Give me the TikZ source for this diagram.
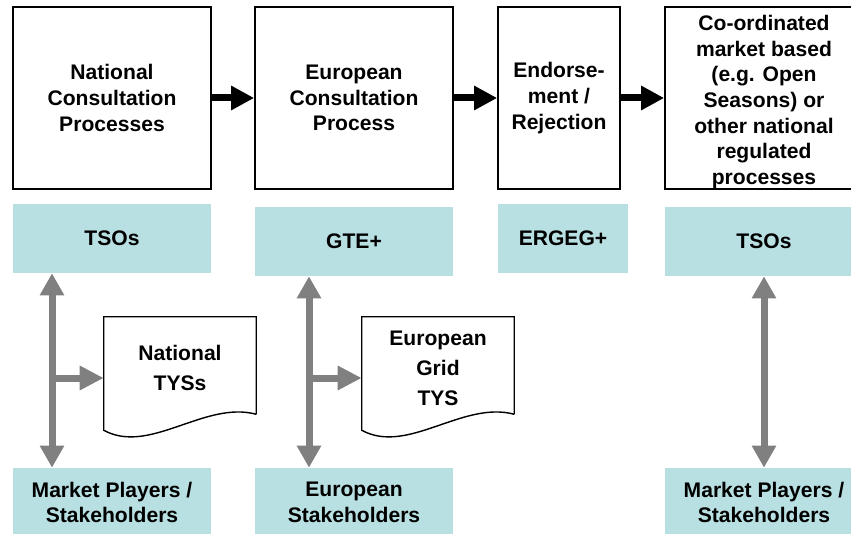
\documentclass[tikz,border=0pt]{standalone}
\usepackage{fontspec}
\setmainfont{Liberation Sans}
\usepackage{tikz}
\usetikzlibrary{arrows.meta,shapes,positioning,calc}
\usepackage{xcolor}
\definecolor{tysteal}{RGB}{184,223,225}
\definecolor{tysgray}{RGB}{128,128,128}
\tikzstyle{flowarrow} = [line width=0.175cm,-{Triangle[width=0.575cm,length=0.575cm]},color=black]
\tikzstyle{linkarrow} = [line width=0.175cm,{Triangle[width=0.575cm,length=0.55cm]}-{Triangle[width=0.575cm,length=0.55cm]},color=tysgray]
\tikzstyle{splitarrow} = [line width=0.175cm,-{Triangle[width=0.575cm,length=0.6cm]},color=tysgray]
\tikzstyle{process} = [rectangle, minimum width=4.95cm, minimum height=4.55cm, inner sep=0pt, align=center, draw=black, line width=1.2pt, font=\fontsize{15}{18.3}\selectfont\bfseries]
\tikzstyle{actor} = [rectangle, minimum width=4.95cm, minimum height=1.725cm, inner sep=0pt, align=center, fill=tysteal, font=\fontsize{15}{18.3}\selectfont\bfseries]
\tikzstyle{report} = [rectangle, minimum width=3.8cm, minimum height=2.55cm, inner sep=0pt, align=center, font=\fontsize{15}{21.3}\selectfont\bfseries]
\newcommand{\tysoutline}[1]{%
  \draw[line width=1pt] ($(#1.south east)+(0,0.125)$) -- (#1.north east) -- (#1.north west) -- ($(#1.south west)+(0,-0.275)$)
    .. controls ($(#1.south west)+(1.15,-0.9)$) and ($(#1.south west)+(2.525,0.475)$) .. ($(#1.south east)+(0,0.125)$);}

\begin{document}
\begin{tikzpicture}
\useasboundingbox (0,0) rectangle (21.275,13.325);
% Process chain
\node[process] (natproc) at (2.8,10.875) {National\\Consultation\\Processes};
\node[process] (euproc) at (8.85,10.875) {European\\Consultation\\Process};
\node[process, minimum width=3.05cm] (endorse) at (13.975,10.875) {Endorse-\\ment /\\Rejection};
\node[process] (market) at (19.1,10.875) {\rule{0pt}{16.6pt}Co-ordinated\\market based\\(e.g. Open\\Seasons) or\\other national\\regulated\\processes};

\draw[flowarrow] (natproc) -- (euproc);
\draw[flowarrow] (euproc) -- (endorse);
\draw[flowarrow] (endorse) -- (market);

% Actors
\node[actor] (tsoleft) at (2.8,7.3625) {TSOs};
\node[actor] (gte) at (8.85,7.2875) {GTE+};
\node[actor, minimum width=3.25cm] (ergeg) at (14.075,7.3625) {ERGEG+};
\node[actor] (tsoright) at (19.1,7.2875) {TSOs};

\node[actor] (playleft) at (2.8,0.7625) {Market Players /\\Stakeholders};
\node[actor] (eustake) at (8.85,0.7625) {European\\Stakeholders};
\node[actor] (playright) at (19.1,0.7625) {Market Players /\\Stakeholders};

% Statements
\node[report] (ntys) at (4.5,4.125) {National\\TYSs};
\node[report] (egtys) at (10.95,4.125) {European\\Grid\\TYS};
\tysoutline{ntys}
\tysoutline{egtys}

\coordinate (nsplit) at (1.3,3.875);
\coordinate (esplit) at (7.725,3.875);

\draw[linkarrow] (tsoleft.south -| nsplit) -- (playleft.north -| nsplit);
\draw[splitarrow] (nsplit) -- (nsplit -| ntys.west);
\draw[linkarrow] (gte.south -| esplit) -- (eustake.north -| esplit);
\draw[splitarrow] (esplit) -- (esplit -| egtys.west);
\draw[linkarrow] (tsoright) -- (playright);
\end{tikzpicture}
\end{document}
